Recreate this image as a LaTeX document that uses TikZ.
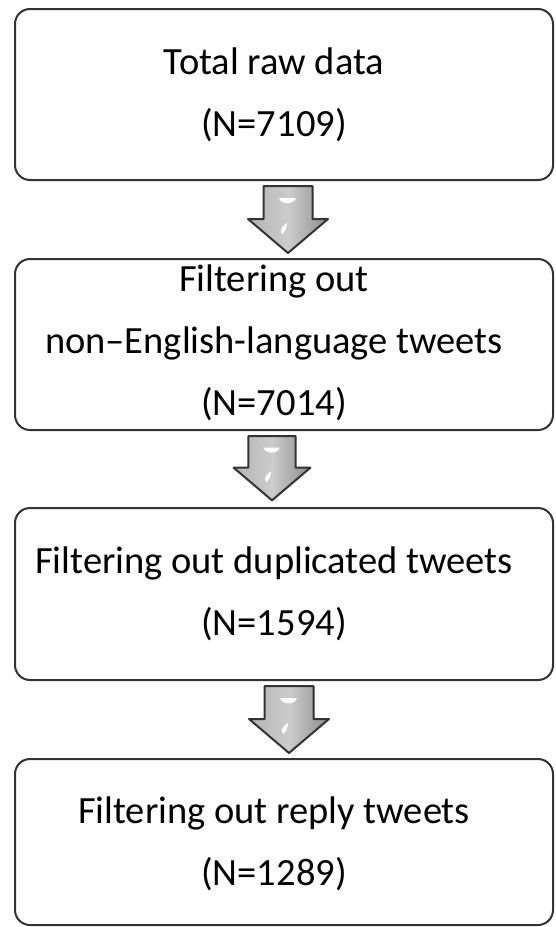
\documentclass[tikz,border=0pt]{standalone}
\usepackage{fontspec}
\setmainfont{Carlito}
\usetikzlibrary{calc}
\newcommand\blockarr[2]{%
  \begin{scope}[shift={(#1)}, scale=#2]
    \path[arrowbody] (-24.5,0) -- (24.5,0) -- (24.5,33) -- (40,33) -- (0,67) -- (-40,33) -- (-24.5,33) -- cycle;
    \fill[white] (-9,12) -- (8,12) .. controls (6,19) and (-7,19) .. cycle;
    \fill[white] (-1,37) .. controls (-6,40) and (-9,44) .. (-6,48) .. controls (-3,46) and (-1,42) .. (-1,37);
  \end{scope}}
\begin{document}
\begin{tikzpicture}[x=1pt,y=-1pt,
  stepbox/.style={draw=black!80, line width=2pt, rounded corners=15pt,
    minimum width=538pt, inner sep=0pt},
  steptext/.style={inner sep=0pt, font=\fontsize{38.5}{62}\selectfont,
    align=center, text=black},
  arrowbody/.style={draw=black!80, line width=2pt, line join=round,
    left color=black!30, right color=black!45, middle color=black!20}]
\useasboundingbox (0,0) rectangle (555,927);
\node[stepbox, minimum height=171pt] (b1) at (284,94.5) {};
\node[stepbox, minimum height=171pt] (b2) at (284,344.5) {};
\node[stepbox, minimum height=172pt] (b3) at (284,594) {};
\node[stepbox, minimum height=166pt] (b4) at (284,842) {};
\node[steptext] (t1) at ($(b1.center)+(-10,0)$) {Total raw data\\(N=7109)};
\node[steptext] (t2) at ($(b2.center)+(-10,-2)$) {Filtering out\\non--English-language tweets\\(N=7014)};
\node[steptext] (t3) at ($(b3.center)+(-10,0)$) {Filtering out duplicated tweets\\(N=1594)};
\node[steptext] (t4) at ($(b4.center)+(-10,2)$) {Filtering out reply tweets\\(N=1289)};
\coordinate (a1) at ($(b1.south)+(4,5)$);
\coordinate (a2) at ($(b2.south)+(-12,5)$);
\coordinate (a3) at ($(b3.south)+(5,5)$);
\blockarr{a1}{1}
\blockarr{a2}{0.96}
\blockarr{a3}{1}
\end{tikzpicture}
\end{document}
